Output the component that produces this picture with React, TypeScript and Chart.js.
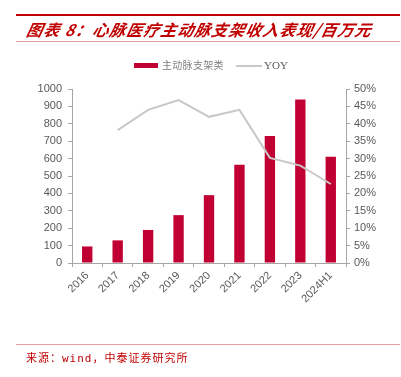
import React, { useEffect, useRef } from "react";
import { Chart, registerables } from "chart.js";

Chart.register(...registerables);

const categories = ["2016", "2017", "2018", "2019", "2020", "2021", "2022", "2023", "2024H1"];
const revenue = [95, 130, 190, 275, 390, 565, 730, 940, 610];
const yoy = [null, 38.2, 44, 46.8, 42, 44, 30.2, 28, 22.7];
const leftTicks = [0, 100, 200, 300, 400, 500, 600, 700, 800, 900, 1000];
const rightTicks = [0, 5, 10, 15, 20, 25, 30, 35, 40, 45, 50];

const RED = "#C00032";
const GRAY_TEXT = "#595959";
const AXIS = "#A6A6A6";

export default function App() {
  const ref = useRef<HTMLCanvasElement>(null);
  useEffect(() => {
    if (!ref.current) return;
    const chart = new Chart(ref.current, {
      type: "bar",
      data: {
        labels: categories,
        datasets: [
          {
            type: "line",
            label: "YOY",
            data: yoy,
            yAxisID: "y1",
            borderColor: "#C8C8C8",
            borderWidth: 2,
            pointRadius: 0,
            tension: 0,
            order: 0,
          } as any,
          {
            type: "bar",
            label: "主动脉支架类",
            data: revenue,
            yAxisID: "y",
            backgroundColor: RED,
            barPercentage: 0.34,
            categoryPercentage: 1,
            order: 1,
          },
        ],
      },
      options: {
        responsive: false,
        animation: false,
        layout: { padding: { top: 89, bottom: 64, left: 0, right: 0 } },
        plugins: { legend: { display: false }, tooltip: { enabled: false } },
        scales: {
          x: {
            grid: { display: true, drawOnChartArea: false, drawTicks: true, tickLength: 4, color: AXIS, offset: true },
            border: { display: true, color: AXIS },
            ticks: { color: GRAY_TEXT, font: { family: "Liberation Sans", size: 11 }, maxRotation: 45, minRotation: 45, padding: 2 },
            afterFit: (s: any) => { s.height = 50; },
          },
          y: {
            position: "left",
            min: 0,
            max: 1000,
            afterBuildTicks: (s: any) => { s.ticks = leftTicks.map((v) => ({ value: v })); },
            grid: { display: true, drawOnChartArea: false, drawTicks: true, tickLength: 4, color: AXIS },
            border: { display: true, color: AXIS },
            ticks: { color: GRAY_TEXT, font: { family: "Liberation Sans", size: 11 }, padding: 6, callback: (v: any) => String(v) },
            afterFit: (s: any) => { s.width = 72; },
          },
          y1: {
            position: "right",
            min: 0,
            max: 50,
            afterBuildTicks: (s: any) => { s.ticks = rightTicks.map((v) => ({ value: v })); },
            grid: { display: true, drawOnChartArea: false, drawTicks: true, tickLength: 4, color: AXIS },
            border: { display: true, color: AXIS },
            ticks: { color: GRAY_TEXT, font: { family: "Liberation Sans", size: 11 }, padding: 4, callback: (v: any) => v + "%" },
            afterFit: (s: any) => { s.width = 55; },
          },
        },
      },
    });
    return () => chart.destroy();
  }, []);

  return (
    <div style={{ position: "absolute", left: 0, top: 0, width: 401, height: 377, background: "#fff", overflow: "hidden" }}>
      <canvas ref={ref} width={401} height={377} style={{ position: "absolute", left: 0, top: 0 }} />
      <div style={{ position: "absolute", left: 16, top: 14, width: 384, height: 2, background: "#C00000" }} />
      <div
        style={{
          position: "absolute",
          left: 27,
          top: 19,
          color: "#C00000",
          fontFamily: "'Noto Sans CJK SC', sans-serif",
          fontWeight: 700,
          fontStyle: "italic",
          fontSize: 16,
          lineHeight: "20px",
          letterSpacing: 1,
          whiteSpace: "nowrap",
          transform: "skewX(-12deg)",
        }}
      >
        图表 8：心脉医疗主动脉支架收入表现/百万元
      </div>
      <div style={{ position: "absolute", left: 16, top: 41, width: 384, height: 1, background: "#E8A0A0" }} />
      <div style={{ position: "absolute", left: 134, top: 63, width: 24, height: 5, background: RED }} />
      <div
        style={{
          position: "absolute",
          left: 162,
          top: 58,
          color: "#7F7F7F",
          fontFamily: "'Noto Sans CJK SC', serif",
          fontSize: 10,
          lineHeight: "14px",
          letterSpacing: 0.3,
          whiteSpace: "nowrap",
        }}
      >
        主动脉支架类
      </div>
      <div style={{ position: "absolute", left: 236, top: 65, width: 26, height: 2, background: "#C8C8C8" }} />
      <div
        style={{
          position: "absolute",
          left: 264,
          top: 58,
          color: GRAY_TEXT,
          fontFamily: "'Liberation Serif', serif",
          fontSize: 11,
          lineHeight: "14px",
          whiteSpace: "nowrap",
        }}
      >
        YOY
      </div>
      <div style={{ position: "absolute", left: 16, top: 344, width: 384, height: 1, background: "#E8A0A0" }} />
      <div
        style={{
          position: "absolute",
          left: 26,
          top: 350,
          color: "#C00000",
          fontFamily: "'Noto Sans CJK SC', monospace",
          fontSize: 11,
          lineHeight: "14px",
          letterSpacing: 1,
          whiteSpace: "nowrap",
        }}
      >
        来源：<span style={{ fontFamily: "'DejaVu Sans Mono', monospace" }}>wind</span>，中泰证券研究所
      </div>
    </div>
  );
}
